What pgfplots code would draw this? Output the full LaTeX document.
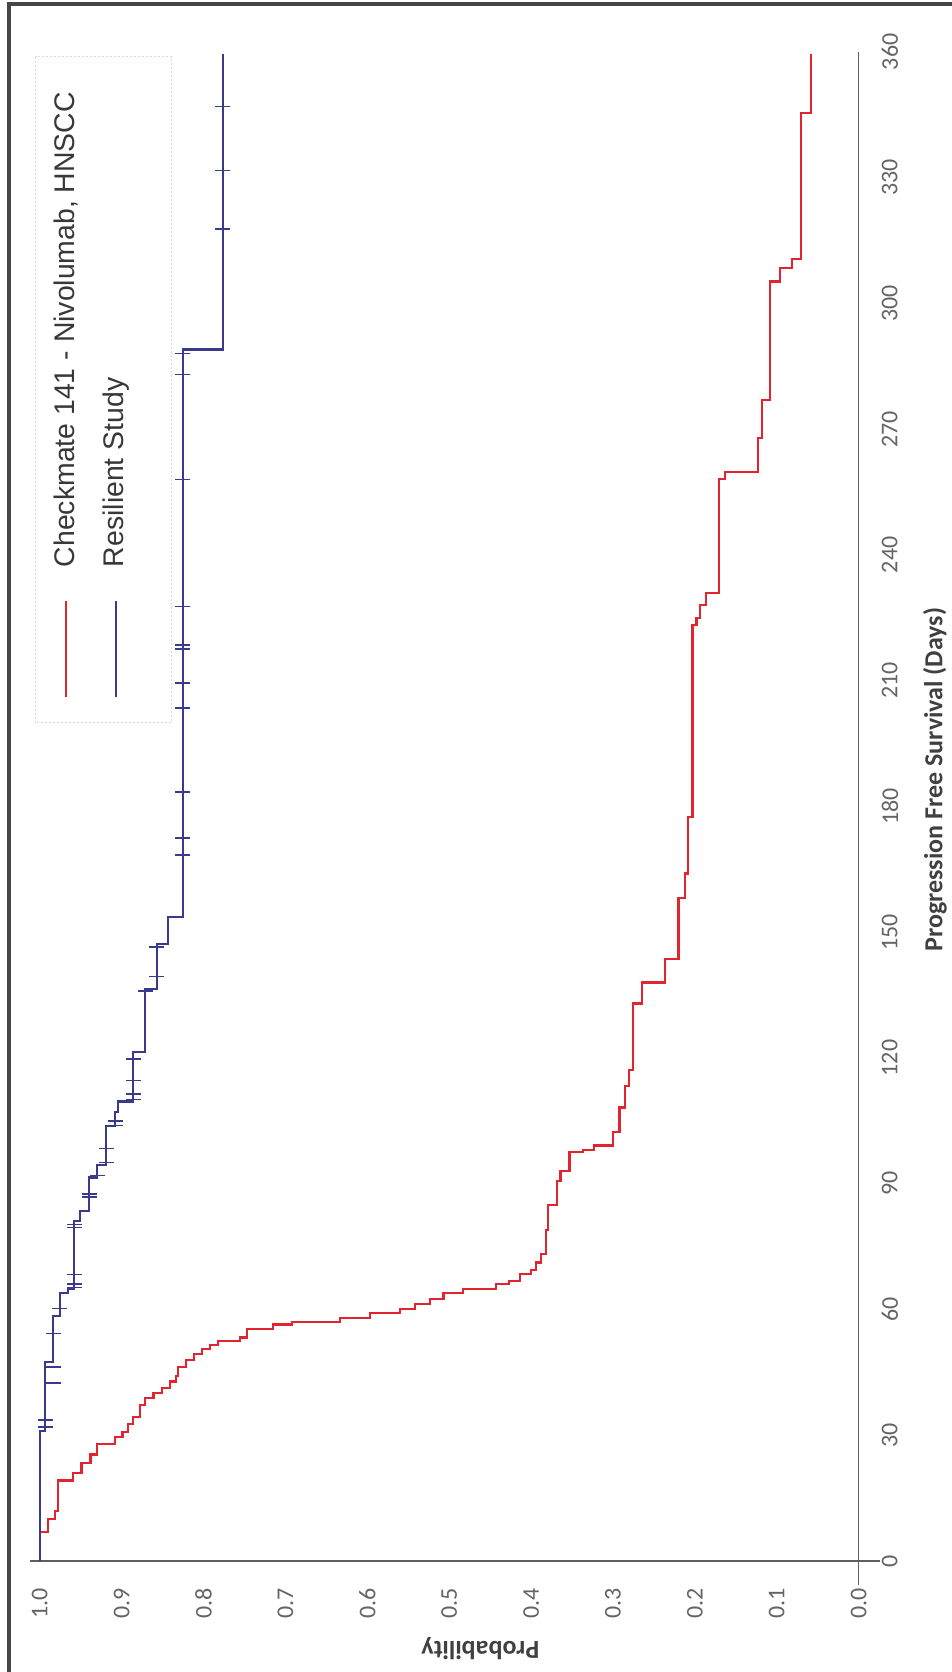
\documentclass[border=0pt]{standalone}
\usepackage{fontspec}
\setmainfont{Carlito}
\newfontfamily\legfont{Liberation Sans}
\usepackage{pgfplots}
\pgfplotsset{compat=1.18}
\definecolor{kmred}{RGB}{226,36,48}
\definecolor{kmblue}{RGB}{58,58,140}
\definecolor{tickgray}{RGB}{100,100,100}
\definecolor{titlegray}{RGB}{64,64,64}
\definecolor{framegray}{RGB}{70,70,70}
\definecolor{axisgray}{RGB}{95,95,95}
\begin{document}
\begin{tikzpicture}
\begin{axis}[
  scale only axis, width=409.5pt, height=754.56pt,
  xmin=0, xmax=1, ymin=0, ymax=360, x dir=reverse,
  clip=false,
  axis line style={draw=none},
  major tick length=0pt,
  xtick={0,0.1,0.2,0.3,0.4,0.5,0.6,0.7,0.8,0.9,1},
  xticklabels={0.0,0.1,0.2,0.3,0.4,0.5,0.6,0.7,0.8,0.9,1.0},
  ytick={0,30,60,90,120,150,180,210,240,270,300,330,360},
  yticklabels={0,30,60,90,120,150,180,210,240,270,300,330,360},
  yticklabel pos=right,
  xticklabel style={rotate=90, anchor=east, inner sep=0pt, font=\fontsize{12}{14}\selectfont, text=tickgray},
  xticklabel shift=13.5pt,
  yticklabel style={rotate=90, anchor=north, inner sep=0pt, font=\fontsize{12}{14}\selectfont, text=tickgray},
  yticklabel shift=11.35pt,
]
% frame and bounding points
\coordinate (bbA) at (axis cs:1.04847,-26.48);
\coordinate (bbB) at (axis cs:-0.11392,372.38);
\draw[framegray, line width=2pt] (axis cs:1.03748,-26.48) -- (axis cs:1.03748,371.42) -- (axis cs:-0.11392,371.42);
% axis lines
\draw[axisgray, line width=0.9pt] (axis cs:1.012,0) -- (axis cs:-0.026,0);
\draw[axisgray, line width=0.7pt] (axis cs:0,-5.7) -- (axis cs:0,360);

% Checkmate 141 - Nivolumab
\addplot[kmred, line width=1.1pt, const plot mark right] table[x=p,y=d] {
p d
1.000 0
0.990 7.0
0.981 10.0
0.978 11.9
0.959 19.2
0.949 21.0
0.938 23.4
0.930 25.4
0.908 28.0
0.899 29.6
0.892 30.7
0.886 32.6
0.878 34.4
0.871 37.3
0.861 38.9
0.851 40.0
0.841 41.2
0.834 42.8
0.831 44.2
0.821 46.3
0.812 47.9
0.802 49.4
0.792 50.6
0.782 51.5
0.755 52.4
0.747 53.3
0.715 55.4
0.692 56.4
0.633 57.0
0.597 57.9
0.560 59.1
0.542 60.2
0.523 61.3
0.507 62.5
0.483 63.9
0.443 64.8
0.427 66.1
0.414 66.8
0.400 68.4
0.394 69.4
0.388 71.2
0.382 73.2
0.379 79.0
0.368 84.9
0.364 90.6
0.353 93.1
0.337 97.5
0.323 98.0
0.300 99.1
0.292 102.3
0.285 108.2
0.280 113.3
0.276 117.1
0.265 133.0
0.2365 138.0
0.220 143.7
0.212 158.2
0.208 164.0
0.203 177.5
0.198 223.3
0.194 225.0
0.186 228.1
0.171 231.0
0.163 258.1
0.1225 259.7
0.1185 267.8
0.108 277.0
0.096 305.2
0.081 308.5
0.070 310.5
0.0587 345.5
0.0587 359.5
};

% Resilient Study
\addplot[kmblue, line width=1.1pt, const plot mark right] table[x=p,y=d] {
p d
1.000 0
0.9935 31.1
0.9834 47.4
0.9752 58.4
0.965 63.9
0.958 64.8
0.951 81.1
0.9394 83.5
0.9296 91.5
0.919 94.5
0.908 103.7
0.904 107.2
0.886 109.6
0.8714 121.5
0.857 136.5
0.843 147.2
0.8254 153.6
0.7766 289.0
0.7766 359.5
};

% censor marks
\addplot[kmblue, only marks, mark=-, mark size=3.75pt, mark options={line width=0.8pt}] coordinates {
(0.9935,32.0) (0.9935,33.7) (0.9834,42.5) (0.9834,46.3) (0.9834,54.3)
(0.9752,60.2) (0.958,65.2) (0.958,66.1) (0.958,68.3) (0.958,79.6) (0.958,80.3)
(0.9394,86.9) (0.9394,87.5) (0.9296,92.0) (0.919,95.1) (0.919,98.4)
(0.908,103.9) (0.908,105.0) (0.886,110.1) (0.886,111.4) (0.886,114.6) (0.886,119.7)
(0.8714,136.0) (0.857,139.4) (0.857,146.4)
(0.8254,168.4) (0.8254,172.5) (0.8254,183.5) (0.8254,203.5) (0.8254,209.5)
(0.8254,217.5) (0.8254,218.5) (0.8254,227.7) (0.8254,258.0) (0.8254,283.0) (0.8254,288.0)
(0.7766,317.8) (0.7766,331.7) (0.7766,347.0)
};

% legend
\draw[black!15, line width=0.5pt, dash pattern=on 1pt off 1pt, fill=white] (axis cs:1.00452,200.0) rectangle (axis cs:0.83846,358.8);
\draw[kmred, line width=1.1pt] (axis cs:0.96795,206.0) -- (axis cs:0.96795,229.0);
\draw[kmblue, line width=1.1pt] (axis cs:0.90690,206.0) -- (axis cs:0.90690,229.0);
\node[rotate=90, anchor=base west, inner sep=0pt, font=\legfont\fontsize{14.2}{17}\selectfont, text=black!78] at (axis cs:0.95690,237.0) {Checkmate 141 - Nivolumab, HNSCC};
\node[rotate=90, anchor=base west, inner sep=0pt, font=\legfont\fontsize{14.2}{17}\selectfont, text=black!78] at (axis cs:0.89707,237.0) {Resilient Study};

% axis titles
\node[rotate=180, font=\bfseries\fontsize{13}{15}\selectfont, text=titlegray] at (axis cs:0.462,-20.8) {Probability};
\node[rotate=90, font=\bfseries\fontsize{13}{15}\selectfont, text=titlegray] at (axis cs:-0.0932,186.4) {Progression Free Survival (Days)};
\end{axis}
\pgfresetboundingbox
\path[use as bounding box] (bbA) rectangle (bbB);
\end{tikzpicture}
\end{document}
